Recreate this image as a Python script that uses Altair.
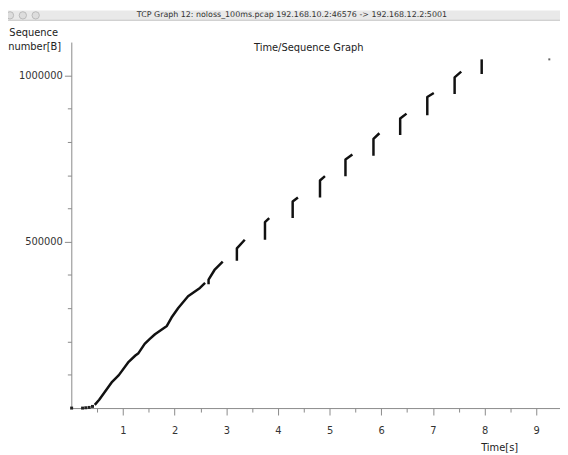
import altair as alt
import pandas as pd

# ---- data (time in s, sequence number in bytes) ----
start_time = [0.006, 0.218, 0.28, 0.345, 0.41]
start_seq = [0, 0, 1000, 2000, 5000]

ramp_time = [0.454, 0.54, 0.79, 0.92, 1.11, 1.24, 1.30, 1.42, 1.52, 1.62,
             1.85, 1.94, 2.07, 2.26, 2.49, 2.59]
ramp_seq = [9800, 25000, 79000, 99000, 139000, 158000, 165000, 193000, 208000,
            222000, 247000, 272000, 301000, 336000, 361000, 376000]

burst_time = [2.657, 3.205, 3.749, 4.285, 4.814, 5.307, 5.849, 6.366, 6.891, 7.420, 7.944]
burst_low = [372000, 443000, 506000, 571000, 633000, 697000, 758000, 821000, 880000, 944000, 1004000]
burst_high = [386000, 480000, 559000, 621000, 684000, 747000, 809000, 870000, 935000, 994000, 1048000]
tail_time = [[2.772, 2.931], [3.358], [3.831], [4.387], [4.910], [5.441], [5.964],
             [6.489], [7.017], [7.548], []]
tail_seq = [[415000, 440000], [506000], [571000], [633000], [697000], [762000], [826000],
            [885000], [947000], [1011000], []]

late_time = [9.253]
late_seq = [1048000]

window_title = "TCP Graph 12: noloss_100ms.pcap 192.168.10.2:46576 -> 192.168.12.2:5001"
graph_title = "Time/Sequence Graph"
x_title = "Time[s]"
y_title = ["Sequence", "number[B]"]

x_major = [1, 2, 3, 4, 5, 6, 7, 8, 9]
x_minor = [0.5, 1.5, 2.5, 3.5, 4.5, 5.5, 6.5, 7.5, 8.5]
y_ticks = [100000 * i for i in range(1, 11)]

# ---- build tables ----
rows = []
k = 0
for t, s in zip(ramp_time, ramp_seq):
    rows.append({"t": t, "s": s, "seg": "ramp", "i": k}); k += 1
for n, (bt, lo, hi, tt, ts) in enumerate(zip(burst_time, burst_low, burst_high, tail_time, tail_seq)):
    seg = f"b{n}"
    rows.append({"t": bt, "s": lo, "seg": seg, "i": k}); k += 1
    rows.append({"t": bt, "s": hi, "seg": seg, "i": k}); k += 1
    for a, b in zip(tt, ts):
        rows.append({"t": a, "s": b, "seg": seg, "i": k}); k += 1
lines_df = pd.DataFrame(rows)
start_df = pd.DataFrame({"t": start_time, "s": start_seq})
late_df = pd.DataFrame({"t": late_time, "s": late_seq})

x_scale = alt.Scale(domain=[0, 9.46], nice=False, zero=False)
y_scale = alt.Scale(domain=[0, 1100000], nice=False)

x_axis = alt.Axis(values=x_major, format="d", tickSize=7, labelPadding=11,
                  title=None, orient="bottom")
x_axis_minor = alt.Axis(values=x_minor, labels=False, domain=False, tickSize=4,
                        title=None, orient="bottom")
y_axis = alt.Axis(
    values=y_ticks, format="d",
    labelExpr="datum.value % 500000 === 0 ? datum.label : ''",
    tickSize={"condition": {"test": "datum.value % 500000 === 0", "value": 7}, "value": 4},
    labelPadding=2, title=None,
)

lines = alt.Chart(lines_df).mark_line(
    color="#111111", strokeWidth=2.5, strokeJoin="round", strokeCap="butt"
).encode(
    x=alt.X("t:Q", scale=x_scale, axis=x_axis),
    y=alt.Y("s:Q", scale=y_scale, axis=y_axis),
    detail="seg:N",
    order="i:Q",
)

minor_ticks = alt.Chart(start_df).mark_point(opacity=0).encode(
    x=alt.X("t:Q", scale=x_scale, axis=x_axis_minor),
    y=alt.value(0),
)

dots = alt.Chart(start_df).mark_square(color="#222222", size=9, opacity=1).encode(
    x=alt.X("t:Q", scale=x_scale, axis=None),
    y=alt.Y("s:Q", scale=y_scale, axis=y_axis),
)
late_dot = alt.Chart(late_df).mark_square(color="#666666", size=4, opacity=1).encode(
    x=alt.X("t:Q", scale=x_scale, axis=None),
    y=alt.Y("s:Q", scale=y_scale, axis=y_axis),
)

bar_df = pd.DataFrame({"a": [0]})
title_bar = alt.Chart(bar_df).mark_rect(color="#e9e9e9").encode(
    x=alt.value(-64), x2=alt.value(494), y=alt.value(-32), y2=alt.value(-22)
)
title_line = alt.Chart(bar_df).mark_rule(color="#c4c4c4", strokeWidth=1).encode(
    x=alt.value(-64), x2=alt.value(494), y=alt.value(-22)
)

def light(px):
    return alt.Chart(bar_df).mark_point(
        shape="circle", filled=True, size=55, color="#d8d8d8", stroke="#9a9a9a", strokeWidth=0.8
    ).encode(x=alt.value(px), y=alt.value(-27))

def label(text, x, y, size=10, align="center", color="#222222"):
    return alt.Chart(pd.DataFrame({"txt": [text]})).mark_text(
        font="DejaVu Sans", fontSize=size, align=align, baseline="middle", color=color
    ).encode(x=alt.value(x), y=alt.value(y), text="txt:N")

texts = [
    label(window_title, 223, -27, size=8, color="#333333"),
    label(y_title[0], -38, -9),
    label(y_title[1], -37, 5),
    label(graph_title, 240, 6),
    label(x_title, 433, 410),
]

chart = alt.layer(
    lines, minor_ticks, dots, late_dot, title_bar, title_line,
    light(-62), light(-49), light(-36), *texts
).resolve_axis(x="independent").properties(
    width=494, height=370,
    autosize=alt.AutoSizeParams(type="none"),
    padding={"left": 64, "top": 32, "right": 0, "bottom": 45},
).configure_view(stroke=None).configure_axis(
    domainColor="#8a8a8a", tickColor="#8a8a8a", labelColor="#333333",
    labelFont="DejaVu Sans", labelFontSize=10, grid=False,
    labelOverlap=False, labelFlush=False, domainWidth=1, tickWidth=1,
)

chart.save("out.html", embed_options={"renderer": "svg", "actions": False})
